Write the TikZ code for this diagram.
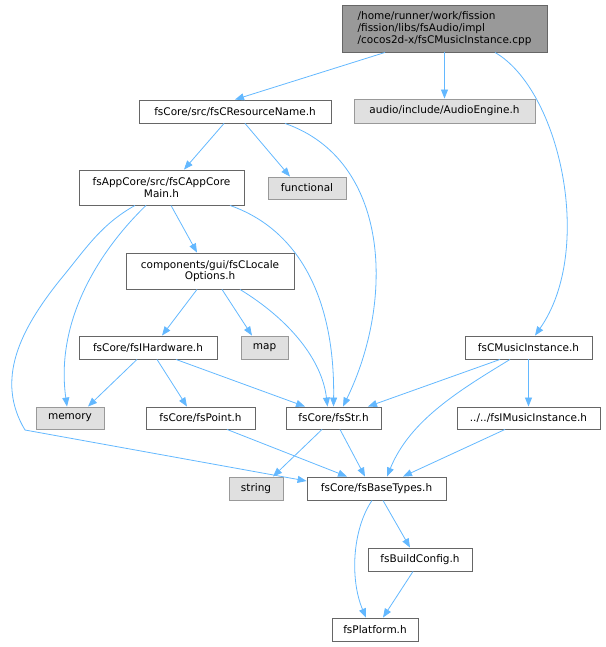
\documentclass[tikz,border=0pt]{standalone}
\usepackage{fontspec}
\setmainfont{DejaVu Sans}
\usetikzlibrary{arrows.meta}
\definecolor{edgeblue}{HTML}{63B8FF}
\definecolor{rootfill}{HTML}{999999}
\definecolor{libfill}{HTML}{E0E0E0}
\definecolor{darkborder}{HTML}{666666}
\definecolor{libborder}{HTML}{999999}
\tikzset{
  filebox/.style={draw=darkborder, fill=white, line width=0.9pt, inner sep=0pt, align=center,
    font=\fontsize{10.5}{11.7}\selectfont},
  libbox/.style={filebox, draw=libborder, fill=libfill},
  rootbox/.style={filebox, fill=rootfill, align=left},
  dep/.style={draw=edgeblue, line width=0.8pt, -{Triangle[length=9pt,width=7pt]}},
}
\begin{document}
\begin{tikzpicture}[x=1pt,y=-1pt]
\useasboundingbox (0,0) rectangle (605,647);
% nodes
\node[rootbox, minimum width=205, minimum height=47] (root) at (444.5,28.5)
  {/home/runner/work/fission\\/fission/libs/fsAudio/impl\\/cocos2d-x/fsCMusicInstance.cpp};
\node[libbox, minimum width=181, minimum height=24] (audio) at (444.5,111) {audio/include/AudioEngine.h};
\node[filebox, minimum width=192, minimum height=23] (res) at (235,111.5) {fsCore/src/fsCResourceName.h};
\node[filebox, minimum width=165, minimum height=35] (app) at (161.5,187.5) {fsAppCore/src/fsCAppCore\\Main.h};
\node[libbox, minimum width=78, minimum height=22] (func) at (307,188) {functional};
\node[filebox, minimum width=168, minimum height=36] (loc) at (210,271) {components/gui/fsCLocale\\Options.h};
\node[filebox, minimum width=138, minimum height=23] (hw) at (148,347.5) {fsCore/fsIHardware.h};
\node[libbox, minimum width=47, minimum height=23] (map) at (264.5,347.5) {map};
\node[filebox, minimum width=127, minimum height=23] (cmi) at (528.5,347.5) {fsCMusicInstance.h};
\node[libbox, minimum width=68, minimum height=22] (mem) at (70,418) {memory};
\node[filebox, minimum width=109, minimum height=22] (pt) at (200.5,418) {fsCore/fsPoint.h};
\node[filebox, minimum width=95, minimum height=22] (str) at (333.5,418) {fsCore/fsStr.h};
\node[filebox, minimum width=143, minimum height=22] (imi) at (528.5,418) {../../fsIMusicInstance.h};
\node[libbox, minimum width=54, minimum height=23] (string) at (256,488.5) {string};
\node[filebox, minimum width=139, minimum height=23] (bt) at (376.5,488.5) {fsCore/fsBaseTypes.h};
\node[filebox, minimum width=104, minimum height=23] (bc) at (420,559.5) {fsBuildConfig.h};
\node[filebox, minimum width=86, minimum height=23] (plat) at (375,629.5) {fsPlatform.h};
% edges
\draw[dep] ([xshift=-59.5pt]root.south) -- (res.north);
\draw[dep] (root.south) -- (audio.north);
\draw[dep] ([xshift=50.5pt]root.south) .. controls (560,90) and (595,250) .. ([xshift=6.5pt]cmi.north);
\draw[dep] ([xshift=-11pt]res.south) -- ([xshift=22.5pt]app.north);
\draw[dep] ([xshift=10pt]res.south) -- ([xshift=-17pt]func.north);
\draw[dep] ([xshift=50pt]res.south) .. controls (390,160) and (395,300) .. ([xshift=9.5pt]str.north);
\draw[dep] ([xshift=9.5pt]app.south) -- ([xshift=-13pt]loc.north);
\draw[dep] ([xshift=-15.5pt]app.south) .. controls (100,250) and (55,320) .. ([xshift=-3pt]mem.north);
\draw[dep] ([xshift=-26.5pt]app.south) .. controls (100,225) and (85,250) .. (60,280)
  .. controls (20,330) and (-5,380) .. (25,430) -- ([yshift=7.5pt]bt.west);
\draw[dep] ([xshift=68.5pt]app.south) .. controls (300,230) and (335,300) .. (str.north);
\draw[dep] ([xshift=-13pt]loc.south) -- ([xshift=14pt]hw.north);
\draw[dep] ([xshift=12pt]loc.south) -- ([xshift=-12.5pt]map.north);
\draw[dep] ([xshift=30pt]loc.south) .. controls (290,320) and (322,360) .. ([xshift=-6pt]str.north);
\draw[dep] ([xshift=-11pt]hw.south) -- ([xshift=18pt]mem.north);
\draw[dep] ([xshift=9pt]hw.south) -- ([xshift=-13.5pt]pt.north);
\draw[dep] ([xshift=28pt]hw.south) -- ([xshift=-28.5pt]str.north);
\draw[dep] ([xshift=26.5pt]pt.south) -- ([xshift=-29.5pt]bt.north);
\draw[dep] ([xshift=-11.5pt]str.south) -- ([xshift=17pt]string.north);
\draw[dep] ([xshift=6.5pt]str.south) -- ([xshift=-11.5pt]bt.north);
\draw[dep] ([xshift=-28.5pt]cmi.south) -- ([xshift=34.5pt]str.north);
\draw[dep] ([xshift=-18.5pt]cmi.south) .. controls (460,390) and (410,420) .. ([xshift=10.5pt]bt.north);
\draw[dep] (cmi.south) -- (imi.north);
\draw[dep] ([xshift=-23.5pt]imi.south) -- ([xshift=26.5pt]bt.north);
\draw[dep] ([xshift=-4.5pt]bt.south) .. controls (352,530) and (350,580) .. ([xshift=-9pt]plat.north);
\draw[dep] ([xshift=6.5pt]bt.south) -- ([xshift=-10pt]bc.north);
\draw[dep] ([xshift=-7pt]bc.south) -- ([xshift=8pt]plat.north);
\end{tikzpicture}
\end{document}
